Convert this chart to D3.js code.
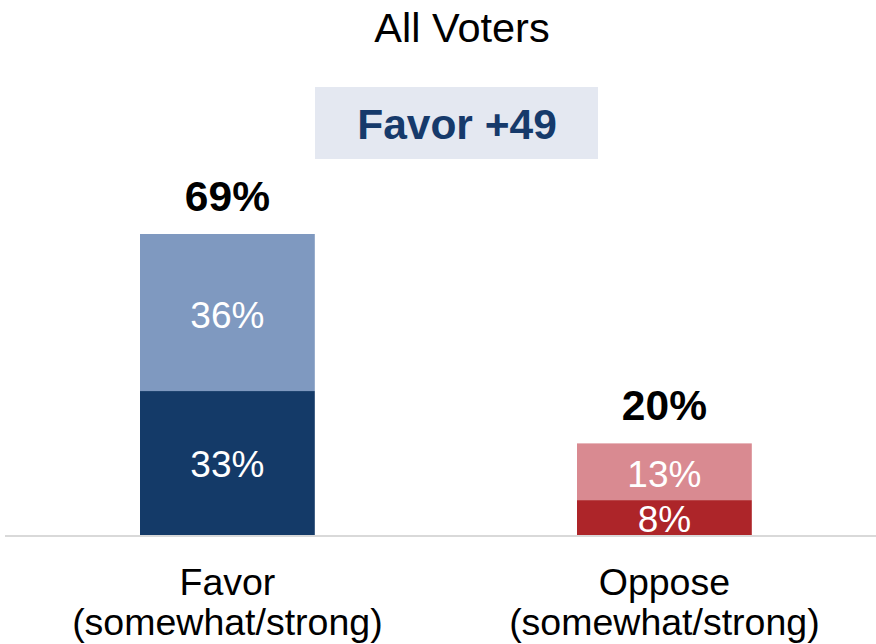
<!DOCTYPE html>
<html>
<head>
<meta charset="utf-8">
<script src="https://cdn.jsdelivr.net/npm/d3@7"></script>
<style>
html,body{margin:0;padding:0;background:#fff;}
svg{display:block;font-family:"Liberation Sans",Arial,sans-serif;}
</style>
</head>
<body>
<svg id="chart" width="876" height="644"></svg>
<script>
const title = "All Voters";
const netLabel = "Favor +49";
const categories = ["Favor", "Oppose"];
const categorySub = ["(somewhat/strong)", "(somewhat/strong)"];
const strongValues = [33, 8];
const somewhatValues = [36, 13];
const totalLabels = ["69%", "20%"];
const strongColors = ["#143a68", "#ad2529"];
const somewhatColors = ["#7f99c0", "#d98a91"];

const svg = d3.select("#chart");
const baseY = 535;

const x = d3.scaleBand()
  .domain(categories)
  .range([96.3, 795.5])
  .paddingInner(0.6)
  .paddingOuter(0.1);

const y = d3.scaleLinear().domain([0, 69]).range([baseY, 234]);

// title
svg.append("text").attr("x", 462).attr("y", 42)
  .attr("text-anchor", "middle").attr("font-size", 41.5).attr("fill", "#000")
  .text(title);

// net box
svg.append("rect").attr("x", 315).attr("y", 87).attr("width", 283).attr("height", 72)
  .attr("fill", "#e4e8f1");
svg.append("text").attr("x", 457).attr("y", 139)
  .attr("text-anchor", "middle").attr("font-size", 42.5).attr("font-weight", "bold")
  .attr("fill", "#163a6b").text(netLabel);

const data = categories.map((c, i) => ({
  cat: c, sub: categorySub[i], strong: strongValues[i], somewhat: somewhatValues[i],
  total: totalLabels[i], i
}));

const g = svg.append("g");

// strong segments
g.selectAll("rect.strong").data(data).join("rect")
  .attr("class", "strong")
  .attr("x", d => x(d.cat)).attr("width", x.bandwidth())
  .attr("y", d => y(d.strong)).attr("height", d => y(0) - y(d.strong))
  .attr("fill", d => strongColors[d.i]);

// somewhat segments
g.selectAll("rect.somewhat").data(data).join("rect")
  .attr("class", "somewhat")
  .attr("x", d => x(d.cat)).attr("width", x.bandwidth())
  .attr("y", d => y(d.strong + d.somewhat)).attr("height", d => y(d.strong) - y(d.strong + d.somewhat))
  .attr("fill", d => somewhatColors[d.i]);

// axis line
svg.append("line").attr("x1", 5).attr("x2", 876).attr("y1", baseY + 1).attr("y2", baseY + 1)
  .attr("stroke", "#d9d9d9").attr("stroke-width", 2);

// segment labels
g.selectAll("text.strongLbl").data(data).join("text")
  .attr("x", d => x(d.cat) + x.bandwidth() / 2)
  .attr("y", d => (y(0) + y(d.strong)) / 2 + 14)
  .attr("text-anchor", "middle").attr("font-size", 37).attr("fill", "#fff")
  .text(d => d.strong + "%");
g.selectAll("text.somLbl").data(data).join("text")
  .attr("x", d => x(d.cat) + x.bandwidth() / 2)
  .attr("y", d => (y(d.strong) + y(d.strong + d.somewhat)) / 2 + 15)
  .attr("text-anchor", "middle").attr("font-size", 37).attr("fill", "#fff")
  .text(d => d.somewhat + "%");

// total labels
g.selectAll("text.total").data(data).join("text")
  .attr("x", d => x(d.cat) + x.bandwidth() / 2)
  .attr("y", d => y(d.strong + d.somewhat) - 23)
  .attr("text-anchor", "middle").attr("font-size", 42.5).attr("font-weight", "bold")
  .attr("fill", "#000")
  .text(d => d.total);

// category labels
const cl = g.selectAll("text.cat").data(data).join("text")
  .attr("text-anchor", "middle").attr("font-size", 37.5).attr("fill", "#000");
cl.append("tspan").attr("x", d => x(d.cat) + x.bandwidth() / 2).attr("y", 595).text(d => d.cat);
cl.append("tspan").attr("x", d => x(d.cat) + x.bandwidth() / 2).attr("y", 635).text(d => d.sub);
</script>
</body>
</html>
